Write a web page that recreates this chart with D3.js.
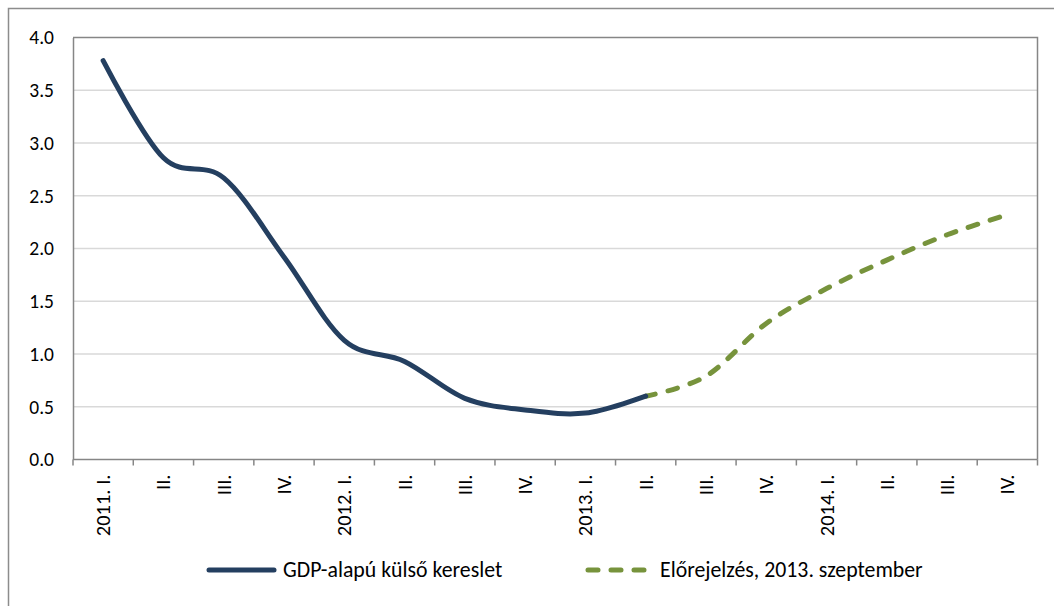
<!DOCTYPE html>
<html>
<head>
<meta charset="utf-8">
<script src="https://cdn.jsdelivr.net/npm/d3@7"></script>
<style>
  html, body { margin: 0; padding: 0; background: #fff; }
  svg { display: block; }
  text { font-family: Carlito, Calibri, "Liberation Sans", Arial, sans-serif; fill: #000; }
</style>
</head>
<body>
<svg id="chart" width="1054" height="606"></svg>
<script>
// Quarterly categories
const categories = [
  "2011. I.", "II.", "III.", "IV.",
  "2012. I.", "II.", "III.", "IV.",
  "2013. I.", "II.", "III.", "IV.",
  "2014. I.", "II.", "III.", "IV."
];

// GDP-based external demand (actual), 2011 Q1 – 2013 Q2
const actualValues = [3.78, 2.86, 2.67, 1.92, 1.13, 0.93, 0.58, 0.47, 0.44, 0.60];

// Forecast, September 2013: 2013 Q2 – 2014 Q4
const forecastStart = 9;
const forecastValues = [0.60, 0.79, 1.29, 1.62, 1.89, 2.13, 2.32];

const yTicks = [0, 0.5, 1, 1.5, 2, 2.5, 3, 3.5, 4];

const seriesNames = ["GDP-alapú külső kereslet", "Előrejelzés, 2013. szeptember"];
const colors = ["#243f60", "#77933c"];

const svg = d3.select("#chart");
const W = 1054, H = 606;
const plot = { left: 73, top: 37.5, right: 1037.5, bottom: 459.5 };

// Outer chart frame
svg.append("rect")
  .attr("x", 8.5).attr("y", 8.5)
  .attr("width", W + 10).attr("height", H + 10)
  .attr("fill", "#fff")
  .attr("stroke", "#8c8c8c").attr("stroke-width", 1.5);

// Labels repeat (II., III., IV.), so the band scale is keyed by index
const idx = d3.range(categories.length);
const x = d3.scaleBand().domain(idx).range([plot.left, plot.right]).padding(0);
const y = d3.scaleLinear().domain([0, 4]).range([plot.bottom, plot.top]);
const cx = i => x(i) + x.bandwidth() / 2;

// Horizontal gridlines
svg.append("g")
  .selectAll("line")
  .data(yTicks.filter(d => d > 0 && d < 4))
  .join("line")
  .attr("x1", plot.left).attr("x2", plot.right)
  .attr("y1", d => y(d)).attr("y2", d => y(d))
  .attr("stroke", "#d9d9d9").attr("stroke-width", 1.5);

// Plot area frame (top and right)
svg.append("path")
  .attr("d", `M${plot.left},${plot.top}H${plot.right}V${plot.bottom}`)
  .attr("fill", "none").attr("stroke", "#868686").attr("stroke-width", 1.5);

// Y axis
const yAxis = svg.append("g")
  .attr("transform", `translate(${plot.left},0)`)
  .call(d3.axisLeft(y).tickValues(yTicks).tickFormat(d3.format(".1f")).tickSize(0).tickPadding(19));
yAxis.select(".domain").attr("stroke", "#868686").attr("stroke-width", 1.5);
yAxis.selectAll("text").attr("font-size", 19.5).style("font-family", null);

// X axis: ticks at band boundaries, rotated labels at band centres
const xAxisG = svg.append("g").attr("transform", `translate(0,${plot.bottom})`);
xAxisG.append("line")
  .attr("x1", plot.left).attr("x2", plot.right)
  .attr("stroke", "#868686").attr("stroke-width", 1.5);
const boundaries = idx.map(i => x(i)).concat([plot.right]);
xAxisG.selectAll("line.tick")
  .data(boundaries)
  .join("line")
  .attr("class", "tick")
  .attr("x1", d => d).attr("x2", d => d)
  .attr("y1", 0).attr("y2", 6)
  .attr("stroke", "#868686").attr("stroke-width", 1.5);
xAxisG.selectAll("text")
  .data(idx)
  .join("text")
  .attr("transform", i => `translate(${cx(i) + 7},15) rotate(-90)`)
  .attr("text-anchor", "end")
  .attr("font-size", 20.5)
  .text(i => categories[i]);

// Smoothed lines
const line = d3.line()
  .x(d => cx(d.i))
  .y(d => y(d.v))
  .curve(d3.curveCatmullRom.alpha(0));

const actualPts = actualValues.map((v, i) => ({ i, v }));
const forecastPts = forecastValues.map((v, k) => ({ i: forecastStart + k, v }));

svg.append("path")
  .datum(forecastPts)
  .attr("d", line)
  .attr("fill", "none")
  .attr("stroke", colors[1]).attr("stroke-width", 5)
  .attr("stroke-linecap", "round")
  .attr("stroke-dasharray", "10,13");

svg.append("path")
  .datum(actualPts)
  .attr("d", line)
  .attr("fill", "none")
  .attr("stroke", colors[0]).attr("stroke-width", 5)
  .attr("stroke-linecap", "round")
  .attr("stroke-linejoin", "round");

// Legend
const legend = svg.append("g");
const legendItems = [
  { name: seriesNames[0], color: colors[0], dash: null, x1: 209, x2: 274, tx: 283 },
  { name: seriesNames[1], color: colors[1], dash: "10,13", x1: 588, x2: 646, tx: 660 }
];
legendItems.forEach(it => {
  legend.append("line")
    .attr("x1", it.x1).attr("x2", it.x2)
    .attr("y1", 570).attr("y2", 570)
    .attr("stroke", it.color).attr("stroke-width", 5)
    .attr("stroke-linecap", "round")
    .attr("stroke-dasharray", it.dash);
  legend.append("text")
    .attr("x", it.tx).attr("y", 577)
    .attr("font-size", 21.8)
    .text(it.name);
});
</script>
</body>
</html>
